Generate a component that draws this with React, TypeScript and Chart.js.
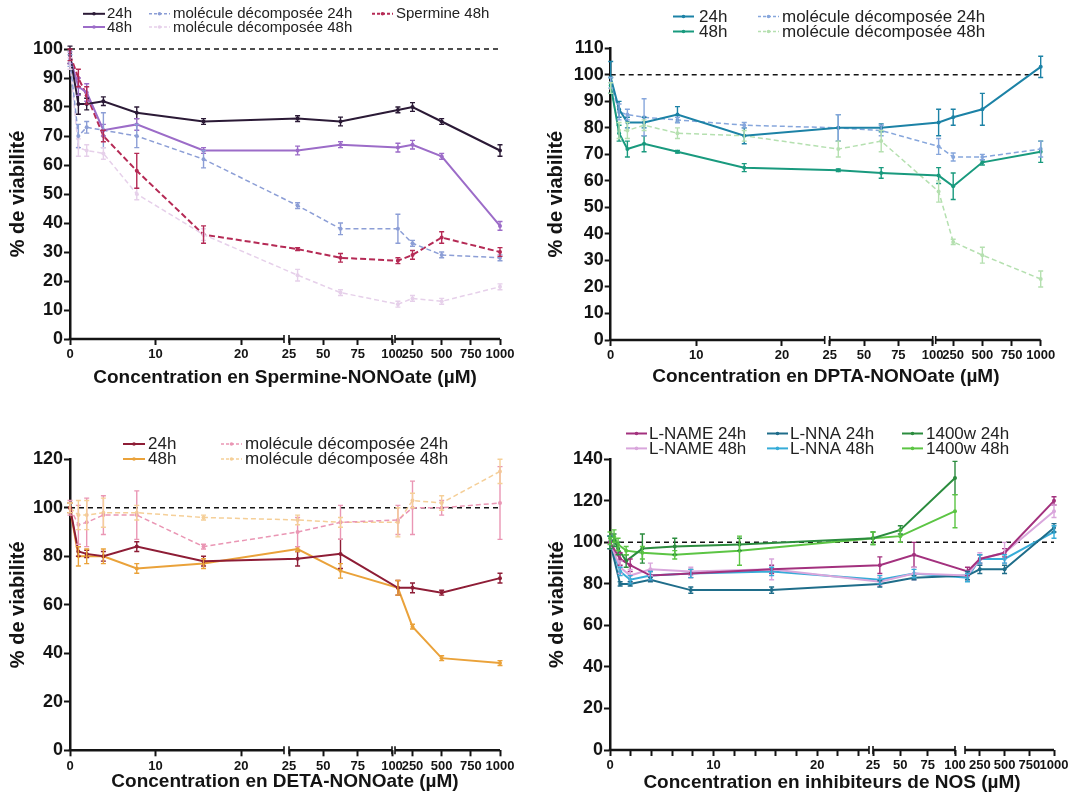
import React, { useEffect, useRef } from "react";
import { Chart, registerables } from "chart.js";
Chart.register(...registerables);

const FONT = "'Liberation Sans', Arial, Helvetica, sans-serif";
const INK = "#141414";

// ---------- Panel A : Spermine-NONOate ----------
const concA = [0, 0.98, 1.95, 3.9, 7.8, 15.6, 31.25, 62.5, 125, 250, 500, 1000];
const a24 = [98, 81, 81, 82, 78, 75, 76, 75, 79, 80, 75, 65];
const a24e = [3, 3.5, 2, 1.5, 2, 1, 1, 1.5, 1, 1.5, 1, 2];
const a48 = [97, 87, 85, 72, 74, 65, 65, 67, 66, 67, 63, 39];
const a48e = [2, 3, 3, 2, 2, 1, 1.5, 1, 1.5, 1.5, 1, 1.5];
const aMol24 = [96, 70, 73, 72, 70, 62, 46, 38, 38, 33, 29, 28];
const aMol24e = [2, 4, 2, 6, 4, 3, 1, 2, 5, 1, 1, 1];
const aMol48 = [95, 66, 65, 64, 50, 36, 22, 16, 12, 14, 13, 18];
const aMol48e = [2, 3, 2, 2, 2, 2, 2, 1, 1, 1, 1, 1];
const aSp48 = [98, 90, 84, 70, 58, 36, 31, 28, 27, 29, 35, 30];
const aSp48e = [2, 3, 3, 2, 6, 3, 0.5, 1.5, 1, 1.5, 2, 1.5];

// ---------- Panel B : DPTA-NONOate ----------
const concB = [0, 0.98, 1.95, 3.9, 7.8, 15.6, 31.25, 62.5, 125, 250, 500, 1000];
const b24 = [99, 87, 82, 82, 85, 77, 80, 80, 82, 84, 87, 103];
const b24e = [6, 3, 2, 2, 3, 3, 5, 1.5, 5, 3, 6, 4];
const b48 = [96, 78, 72, 74, 71, 65, 64, 63, 62, 58, 67, 71];
const b48e = [3, 3, 3, 3, 0.5, 1.5, 0.5, 2, 3, 5, 1, 4];
const bMol24 = [97, 86, 85, 84, 83, 81, 80, 79, 73, 69, 69, 72];
const bMol24e = [2, 3, 2, 7, 1, 1, 5, 2, 3, 1.5, 1, 3];
const bMol48 = [95, 79, 79, 81, 78, 77, 72, 75, 56, 37, 32, 23];
const bMol48e = [2, 3, 3, 2, 2, 2, 3, 4, 4, 1, 3, 3];

// ---------- Panel C : DETA-NONOate ----------
const concC = [0, 0.98, 1.95, 3.9, 7.8, 15.6, 31.25, 62.5, 125, 250, 500, 1000];
const c24 = [100, 82, 81, 80, 84, 78, 79, 81, 67, 67, 65, 71];
const c24e = [2, 2, 1.5, 2, 2, 2, 3, 6, 3, 2, 1, 2];
const c48 = [100, 80, 80, 80, 75, 77, 83, 74, 67, 51, 38, 36];
const c48e = [2, 4, 3, 3, 2, 2, 1, 3, 3, 1, 1, 1];
const cMol24 = [100, 93, 94, 97, 97, 84, 90, 94, 95, 100, 100, 102];
const cMol24e = [3, 8, 10, 8, 10, 1, 6, 7, 6, 11, 3, 15];
const cMol48 = [100, 97, 97, 98, 98, 96, 95, 94, 94, 103, 102, 115];
const cMol48e = [2, 6, 6, 6, 3, 1, 2, 2, 6, 3, 3, 5];

// ---------- Panel D : NOS inhibitors ----------
const concD = [0, 0.98, 1.95, 3.9, 7.8, 15.6, 31.25, 62.5, 125, 250, 500, 1000];
const concW = [0, 0.39, 0.78, 1.56, 3.125, 6.25, 12.5, 25, 50, 100];
const dName24 = [100, 92, 89, 84, 85, 87, 89, 94, 86, 92, 95, 120];
const dName24e = [3, 3, 3, 2, 2, 2, 4, 6, 2, 2, 2, 2];
const dName48 = [100, 88, 84, 87, 86, 87, 81, 85, 84, 92, 95, 115];
const dName48e = [3, 3, 3, 3, 2, 5, 2, 3, 2, 3, 5, 3];
const dNna24 = [100, 80, 80, 82, 77, 77, 80, 83, 84, 87, 87, 107];
const dNna24e = [3, 1, 1, 1, 1.5, 1.5, 1.5, 1, 2, 2, 2, 2];
const dNna48 = [100, 86, 82, 84, 85, 86, 82, 85, 83, 92, 92, 105];
const dNna48e = [3, 2, 2, 2, 2, 2, 2, 2, 2, 2, 2, 3];
const dW24 = [100, 101, 97, 91, 97, 98, 99, 102, 106, 131];
const dW24e = [3, 3, 3, 3, 7, 4, 3, 3, 2, 8];
const dW48 = [102, 103, 99, 96, 95, 94, 96, 102, 103, 115];
const dW48e = [3, 3, 3, 2, 3, 2, 7, 3, 3, 8];

// tick values / labels
const ticksABC = [0, 10, 20, 25, 50, 75, 100, 250, 500, 750, 1000];
const tickLabelsABC = ["0", "10", "20", "25", "50", "75", "100", "250", "500", "750", "1000"];
const ticksD = [0, 2, 4, 6, 8, 10, 12, 14, 16, 18, 20, 22, 24, 25, 50, 75, 100, 250, 500, 750, 1000];
const tickLabelsD = ["0", "", "", "", "", "10", "", "", "", "", "20", "", "", "25", "50", "75", "100", "250", "500", "750", "1000"];

type Seg = { c0: number; c1: number; p0: number; p1: number; keepEnd?: boolean };
type Series = { label: string; conc: number[]; vals: number[]; err: number[]; color: string; dash?: number[]; width?: number };
type Cfg = {
  left: number; top: number; w: number; h: number;
  plot: { l: number; r: number; t: number; b: number };
  yMax: number; yStep: number;
  segs: Seg[];
  xTicks: number[]; xLabels: string[];
  series: Series[];
  legend: { font: number; rows: number[]; cols: { l0: number; l1: number; tx: number }[]; slots: [number, number][] };
  xTitle: string; xTitleY: number; yTitleX: number;
};

const segsABC: Seg[] = [
  { c0: 0, c1: 25, p0: 0, p1: 214 },
  { c0: 25, c1: 100, p0: 219, p1: 322, keepEnd: true },
  { c0: 100, c1: 1000, p0: 325, p1: 430 },
];
const segsD: Seg[] = [
  { c0: 0, c1: 25, p0: 0, p1: 259 },
  { c0: 25, c1: 100, p0: 263, p1: 345, keepEnd: true },
  { c0: 100, c1: 1000, p0: 355, p1: 444 },
];

const DASH = [5, 3];

const panels: Cfg[] = [
  {
    left: 0, top: 0, w: 537, h: 399,
    plot: { l: 70, r: 500, t: 49, b: 339 },
    yMax: 100, yStep: 10, segs: segsABC, xTicks: ticksABC, xLabels: tickLabelsABC,
    series: [
      { label: "24h", conc: concA, vals: a24, err: a24e, color: "#2b1a36" },
      { label: "48h", conc: concA, vals: a48, err: a48e, color: "#9c6cc8" },
      { label: "molécule décomposée 24h", conc: concA, vals: aMol24, err: aMol24e, color: "#8c9ed6", dash: DASH, width: 1.5 },
      { label: "molécule décomposée 48h", conc: concA, vals: aMol48, err: aMol48e, color: "#e6d0ea", dash: DASH, width: 1.5 },
      { label: "Spermine 48h", conc: concA, vals: aSp48, err: aSp48e, color: "#b52a55", dash: [6, 3] },
    ],
    legend: {
      font: 15, rows: [13.8, 27],
      cols: [{ l0: 83, l1: 105, tx: 107 }, { l0: 149, l1: 170, tx: 173 }, { l0: 372, l1: 393, tx: 396 }],
      slots: [[0, 0], [0, 1], [1, 0], [1, 1], [2, 0]],
    },
    xTitle: "Concentration en Spermine-NONOate (µM)", xTitleY: 378, yTitleX: 18,
  },
  {
    left: 537, top: 0, w: 537, h: 399,
    plot: { l: 73.7, r: 504, t: 48.3, b: 340 },
    yMax: 110, yStep: 10, segs: segsABC, xTicks: ticksABC, xLabels: tickLabelsABC,
    series: [
      { label: "24h", conc: concB, vals: b24, err: b24e, color: "#1c82a6" },
      { label: "48h", conc: concB, vals: b48, err: b48e, color: "#199a7e" },
      { label: "molécule décomposée 24h", conc: concB, vals: bMol24, err: bMol24e, color: "#86a6dc", dash: DASH, width: 1.5 },
      { label: "molécule décomposée 48h", conc: concB, vals: bMol48, err: bMol48e, color: "#b5e0b0", dash: DASH, width: 1.5 },
    ],
    legend: {
      font: 17, rows: [16.5, 31.5],
      cols: [{ l0: 136, l1: 157, tx: 162 }, { l0: 221, l1: 242, tx: 245 }],
      slots: [[0, 0], [0, 1], [1, 0], [1, 1]],
    },
    xTitle: "Concentration en DPTA-NONOate (µM)", xTitleY: 377, yTitleX: 19,
  },
  {
    left: 0, top: 399, w: 537, h: 399,
    plot: { l: 70, r: 500, t: 60.3, b: 351.3 },
    yMax: 120, yStep: 20, segs: segsABC, xTicks: ticksABC, xLabels: tickLabelsABC,
    series: [
      { label: "24h", conc: concC, vals: c24, err: c24e, color: "#8e1d36" },
      { label: "48h", conc: concC, vals: c48, err: c48e, color: "#eaa23a" },
      { label: "molécule décomposée 24h", conc: concC, vals: cMol24, err: cMol24e, color: "#ea96b4", dash: DASH, width: 1.5 },
      { label: "molécule décomposée 48h", conc: concC, vals: cMol48, err: cMol48e, color: "#f5cf98", dash: DASH, width: 1.5 },
    ],
    legend: {
      font: 17, rows: [45, 60],
      cols: [{ l0: 123, l1: 145, tx: 148 }, { l0: 221, l1: 242, tx: 245 }],
      slots: [[0, 0], [0, 1], [1, 0], [1, 1]],
    },
    xTitle: "Concentration en DETA-NONOate (µM)", xTitleY: 383, yTitleX: 18,
  },
  {
    left: 537, top: 399, w: 537, h: 399,
    plot: { l: 73, r: 517, t: 60.3, b: 351 },
    yMax: 140, yStep: 20, segs: segsD, xTicks: ticksD, xLabels: tickLabelsD,
    series: [
      { label: "L-NAME 24h", conc: concD, vals: dName24, err: dName24e, color: "#a3317e" },
      { label: "L-NAME 48h", conc: concD, vals: dName48, err: dName48e, color: "#d9a6dc" },
      { label: "L-NNA 24h", conc: concD, vals: dNna24, err: dNna24e, color: "#1f6d8a" },
      { label: "L-NNA 48h", conc: concD, vals: dNna48, err: dNna48e, color: "#36acd8" },
      { label: "1400w 24h", conc: concW, vals: dW24, err: dW24e, color: "#2b8c3e" },
      { label: "1400w 48h", conc: concW, vals: dW48, err: dW48e, color: "#5cc544" },
    ],
    legend: {
      font: 17, rows: [34.5, 49.4],
      cols: [{ l0: 89, l1: 110, tx: 112 }, { l0: 230, l1: 251, tx: 253 }, { l0: 365, l1: 386, tx: 389 }],
      slots: [[0, 0], [0, 1], [1, 0], [1, 1], [2, 0], [2, 1]],
    },
    xTitle: "Concentration en inhibiteurs de NOS (µM)", xTitleY: 384, yTitleX: 20,
  },
];

function makePos(segs: Seg[]) {
  return (c: number) => {
    for (let i = 0; i < segs.length; i++) {
      const s = segs[i];
      const last = i === segs.length - 1;
      const inside = c >= s.c0 && (c < s.c1 || (c === s.c1 && (last || s.keepEnd)));
      if (inside) return s.p0 + ((c - s.c0) * (s.p1 - s.p0)) / (s.c1 - s.c0);
    }
    return NaN;
  };
}

function Panel({ cfg }: { cfg: Cfg }) {
  const ref = useRef<HTMLCanvasElement>(null);
  useEffect(() => {
    const pos = makePos(cfg.segs);
    const pw = cfg.plot.r - cfg.plot.l;
    const datasets = cfg.series.map((s) => ({
      label: s.label,
      data: s.conc.map((c, i) => ({ x: pos(c), y: s.vals[i] })),
      borderColor: s.color,
      backgroundColor: s.color,
      borderWidth: s.width ?? 2,
      borderDash: s.dash ?? [],
      pointRadius: 2,
      pointHoverRadius: 2,
      pointBorderWidth: 0,
      tension: 0,
      fill: false,
      clip: false as any,
    }));

    const deco = {
      id: "deco",
      beforeDatasetsDraw(chart: any) {
        const { ctx, chartArea } = chart;
        const y = chart.scales.y.getPixelForValue(100);
        ctx.save();
        ctx.strokeStyle = INK;
        ctx.lineWidth = 1.5;
        ctx.setLineDash([5, 4]);
        ctx.beginPath();
        ctx.moveTo(chartArea.left, y);
        ctx.lineTo(chartArea.right, y);
        ctx.stroke();
        ctx.restore();
      },
      afterDatasetsDraw(chart: any) {
        const { ctx } = chart;
        const ys = chart.scales.y;
        ctx.save();
        ctx.setLineDash([]);
        cfg.series.forEach((s, di) => {
          const meta = chart.getDatasetMeta(di);
          ctx.strokeStyle = s.color;
          ctx.lineWidth = 1.4;
          meta.data.forEach((pt: any, i: number) => {
            const e = s.err[i];
            if (!e) return;
            const y1 = ys.getPixelForValue(s.vals[i] + e);
            const y2 = ys.getPixelForValue(s.vals[i] - e);
            ctx.beginPath();
            ctx.moveTo(pt.x, y1);
            ctx.lineTo(pt.x, y2);
            ctx.moveTo(pt.x - 2.5, y1);
            ctx.lineTo(pt.x + 2.5, y1);
            ctx.moveTo(pt.x - 2.5, y2);
            ctx.lineTo(pt.x + 2.5, y2);
            ctx.stroke();
          });
        });
        ctx.restore();
      },
      afterDraw(chart: any) {
        const { ctx, chartArea } = chart;
        const L = chartArea.left;
        const B = chartArea.bottom;
        ctx.save();
        // x axis segments with breaks
        ctx.strokeStyle = INK;
        ctx.lineWidth = 2.5;
        ctx.setLineDash([]);
        cfg.segs.forEach((s, i) => {
          ctx.beginPath();
          ctx.moveTo(L + s.p0 - (i === 0 ? 1.25 : 0), B);
          ctx.lineTo(L + s.p1, B);
          ctx.stroke();
        });
        ctx.lineWidth = 1.6;
        cfg.segs.forEach((s, i) => {
          if (i > 0) {
            ctx.beginPath();
            ctx.moveTo(L + s.p0, B - 4);
            ctx.lineTo(L + s.p0, B + 4);
            ctx.stroke();
          }
          if (i < cfg.segs.length - 1) {
            ctx.beginPath();
            ctx.moveTo(L + s.p1, B - 4);
            ctx.lineTo(L + s.p1, B + 4);
            ctx.stroke();
          }
        });
        // legend
        const lg = cfg.legend;
        ctx.font = `${lg.font}px ${FONT}`;
        ctx.textBaseline = "middle";
        ctx.textAlign = "left";
        cfg.series.forEach((s, i) => {
          const [c, r] = lg.slots[i];
          const col = lg.cols[c];
          const y = lg.rows[r];
          ctx.strokeStyle = s.color;
          ctx.lineWidth = s.width ?? 2;
          ctx.setLineDash(s.dash ? [3, 2] : []);
          ctx.beginPath();
          ctx.moveTo(col.l0, y);
          ctx.lineTo(col.l1, y);
          ctx.stroke();
          ctx.setLineDash([]);
          ctx.fillStyle = s.color;
          ctx.beginPath();
          ctx.arc((col.l0 + col.l1) / 2, y, 1.8, 0, Math.PI * 2);
          ctx.fill();
          ctx.fillStyle = "#222";
          ctx.fillText(s.label, col.tx, y + 0.5);
        });
        // axis titles
        ctx.fillStyle = INK;
        ctx.font = `bold 19px ${FONT}`;
        ctx.textAlign = "center";
        ctx.fillText(cfg.xTitle, (chartArea.left + chartArea.right) / 2, cfg.xTitleY);
        ctx.save();
        ctx.font = `bold 20px ${FONT}`;
        ctx.translate(cfg.yTitleX, (chartArea.top + chartArea.bottom) / 2);
        ctx.rotate(-Math.PI / 2);
        ctx.fillText("% de viabilité", 0, 0);
        ctx.restore();
        ctx.restore();
      },
    };

    const chart = new Chart(ref.current as HTMLCanvasElement, {
      type: "line",
      data: { datasets: datasets as any },
      options: {
        responsive: false,
        animation: false,
        devicePixelRatio: 1,
        events: [],
        layout: { padding: { left: 0, top: cfg.plot.t, right: cfg.w - cfg.plot.r, bottom: 0 } },
        plugins: { legend: { display: false }, tooltip: { enabled: false } },
        scales: {
          x: {
            type: "linear",
            min: 0,
            max: pw,
            border: { display: false },
            grid: { drawOnChartArea: false, drawTicks: true, tickLength: 6, tickWidth: 2, tickColor: INK, color: INK },
            ticks: {
              autoSkip: false,
              maxRotation: 0,
              minRotation: 0,
              padding: 2,
              color: INK,
              font: { family: FONT, size: 13, weight: "bold" },
              callback: (_v: any, i: number) => cfg.xLabels[i] ?? "",
            },
            afterBuildTicks: (scale: any) => {
              scale.ticks = cfg.xTicks.map((c) => ({ value: pos(c) }));
            },
            afterFit: (scale: any) => {
              scale.height = cfg.h - cfg.plot.b;
            },
          },
          y: {
            type: "linear",
            min: 0,
            max: cfg.yMax,
            border: { display: true, color: INK, width: 2.5 },
            grid: { drawOnChartArea: false, tickLength: 6, tickWidth: 2, tickColor: INK, color: INK },
            ticks: { stepSize: cfg.yStep, padding: 1, color: INK, font: { family: FONT, size: 18, weight: "bold" } },
            afterFit: (scale: any) => {
              scale.width = cfg.plot.l;
            },
          },
        },
      } as any,
      plugins: [deco],
    });
    return () => chart.destroy();
  }, [cfg]);
  return (
    <canvas
      ref={ref}
      width={cfg.w}
      height={cfg.h}
      style={{ position: "absolute", left: cfg.left, top: cfg.top, width: cfg.w, height: cfg.h }}
    />
  );
}

export default function App() {
  return (
    <div style={{ position: "absolute", left: 0, top: 0, width: 1074, height: 798, background: "#fff" }}>
      {panels.map((p, i) => (
        <Panel key={i} cfg={p} />
      ))}
    </div>
  );
}
